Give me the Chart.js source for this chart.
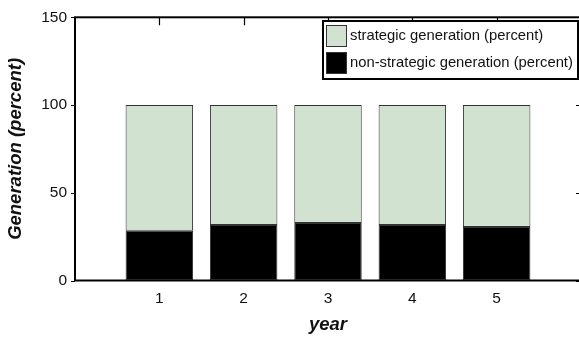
<!DOCTYPE html>
<html>
<head>
<meta charset="utf-8">
<script src="https://cdn.jsdelivr.net/npm/chart.js@4/dist/chart.umd.min.js"></script>
<style>
  html, body { margin: 0; padding: 0; background: #fff; overflow: hidden; width: 579px; height: 339px; }
  #wrap { width: 590px; height: 339px; }
</style>
</head>
<body>
<div id="wrap"><canvas id="c" width="590" height="339"></canvas></div>
<script>
// Years on the x axis
const years = [1, 2, 3, 4, 5];
// Share of generation per year (percent)
const strategicGeneration = [71.6, 68.4, 67.3, 68.4, 69.5];
const nonStrategicGeneration = [28.4, 31.6, 32.7, 31.6, 30.5];
// Axis ticks
const yTicks = [0, 50, 100, 150];
const xTickLabels = ['1', '2', '3', '4', '5'];

const FONT = 'Arial, "Liberation Sans", sans-serif';
const GREEN = '#d1e2d1';

// Frame, tick marks and boxed legend
const framePlugin = {
  id: 'frame',
  afterDatasetsDraw(chart) {
    const { ctx, chartArea: a, scales } = chart;
    const x = scales.x, y = scales.y;
    ctx.save();
    ctx.strokeStyle = '#000';
    ctx.lineWidth = 2;
    ctx.strokeRect(a.left, a.top, a.right - a.left, a.bottom - a.top);
    ctx.lineWidth = 1.2;
    ctx.beginPath();
    yTicks.forEach(v => {
      const py = Math.round(y.getPixelForValue(v)) + 0.5;
      ctx.moveTo(a.left - 4, py); ctx.lineTo(a.left, py);
      ctx.moveTo(a.right, py); ctx.lineTo(a.right - 5, py);
    });
    years.forEach(v => {
      const px = Math.round(x.getPixelForValue(v)) + 0.5;
      ctx.moveTo(px, a.top); ctx.lineTo(px, a.top + 8);
    });
    ctx.stroke();

    // legend box
    const lx = 323, ly = 21, lw = 255, lh = 58;
    ctx.fillStyle = '#fff';
    ctx.fillRect(lx, ly, lw, lh);
    ctx.lineWidth = 2;
    ctx.strokeStyle = '#000';
    ctx.strokeRect(lx, ly, lw, lh);
    const items = [chart.data.datasets[1], chart.data.datasets[0]];
    ctx.font = '14.8px ' + FONT;
    ctx.textBaseline = 'middle';
    items.forEach((ds, i) => {
      const sy = ly + 4 + i * 27;
      ctx.fillStyle = ds.backgroundColor;
      ctx.fillRect(lx + 3, sy, 21, 22);
      ctx.lineWidth = 1;
      ctx.strokeStyle = '#333';
      ctx.strokeRect(lx + 3.5, sy + 0.5, 20, 21);
      ctx.fillStyle = '#111';
      ctx.fillText(ds.label, lx + 27, sy + 11);
    });
    ctx.restore();
  }
};

new Chart(document.getElementById('c'), {
  type: 'bar',
  data: {
    datasets: [
      {
        label: 'non-strategic generation (percent)',
        data: years.map((yr, i) => ({ x: yr, y: nonStrategicGeneration[i] })),
        backgroundColor: '#000',
        borderColor: '#333',
        borderWidth: 1,
        borderSkipped: false
      },
      {
        label: 'strategic generation (percent)',
        data: years.map((yr, i) => ({ x: yr, y: strategicGeneration[i] })),
        backgroundColor: GREEN,
        borderColor: '#333',
        borderWidth: 1,
        borderSkipped: false
      }
    ]
  },
  options: {
    responsive: false,
    animation: false,
    events: [],
    categoryPercentage: 1,
    barPercentage: 0.8,
    layout: { padding: { top: 14, right: 7, bottom: 0, left: 0 } },
    plugins: { legend: { display: false }, tooltip: { enabled: false } },
    scales: {
      x: {
        type: 'linear',
        stacked: true,
        offset: false,
        min: 0,
        max: 6,
        grid: { display: false, drawTicks: false, offset: false },
        border: { display: false },
        ticks: {
          stepSize: 1,
          padding: 9,
          color: '#111',
          font: { family: FONT, size: 15.5 },
          callback: v => (v >= 1 && v <= 5 ? xTickLabels[v - 1] : '')
        },
        title: {
          display: true,
          text: 'year',
          color: '#111',
          padding: { top: 0, bottom: 3 },
          font: { family: FONT, size: 18.5, weight: 'bold', style: 'italic' }
        },
        afterFit(s) { s.height = 58.5; }
      },
      y: {
        stacked: true,
        min: 0,
        max: 150,
        grid: { display: false, drawTicks: false },
        border: { display: false },
        ticks: {
          stepSize: 50,
          padding: 8,
          color: '#111',
          font: { family: FONT, size: 15.5 }
        },
        title: {
          display: true,
          text: 'Generation (percent)',
          color: '#111',
          padding: { top: 4.5, bottom: 0 },
          font: { family: FONT, size: 18.5, weight: 'bold', style: 'italic' }
        },
        afterFit(s) { s.width = 75; }
      }
    }
  },
  plugins: [framePlugin]
});
</script>
</body>
</html>
